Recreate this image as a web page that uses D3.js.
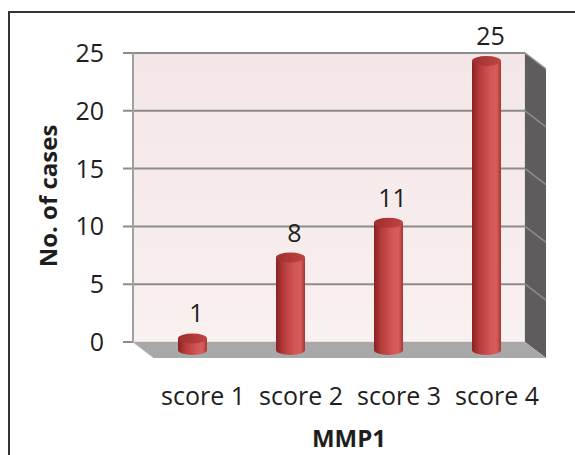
<!DOCTYPE html>
<html>
<head>
<meta charset="utf-8">
<script src="https://cdn.jsdelivr.net/npm/d3@7"></script>
<style>
  body { margin: 0; background: #fff; }
  text { font-family: "Open Sans", sans-serif; fill: #1e1e1e; }
</style>
</head>
<body>
<div id="chart"></div>
<script>
var categories = ["score 1", "score 2", "score 3", "score 4"];
var cases = [1, 8, 11, 25];
var yTicks = [0, 5, 10, 15, 20, 25];
var xTitle = "MMP1",
    yTitle = "No. of cases";

var width = 575,
    height = 455,
    wall = { left: 133, right: 525, top: 53, bottom: 342 },
    depth = { dx: 21, dy: 16 },
    barWidth = 29,
    ry = 5;

var svg = d3.select("#chart").append("svg")
    .attr("width", width)
    .attr("height", height);

var defs = svg.append("defs");

var wallGrad = defs.append("linearGradient")
    .attr("id", "wallGrad")
    .attr("x1", 0).attr("y1", 0).attr("x2", 0).attr("y2", 1);
wallGrad.append("stop").attr("offset", "0%").attr("stop-color", "#f4e6e7");
wallGrad.append("stop").attr("offset", "100%").attr("stop-color", "#f9f0f0");

var barGrad = defs.append("linearGradient")
    .attr("id", "barGrad")
    .attr("x1", 0).attr("y1", 0).attr("x2", 1).attr("y2", 0);
barGrad.append("stop").attr("offset", "0%").attr("stop-color", "#8a2222");
barGrad.append("stop").attr("offset", "25%").attr("stop-color", "#b53a3a");
barGrad.append("stop").attr("offset", "65%").attr("stop-color", "#d45656");
barGrad.append("stop").attr("offset", "85%").attr("stop-color", "#d65c5c");
barGrad.append("stop").attr("offset", "100%").attr("stop-color", "#a83434");

var topGrad = defs.append("linearGradient")
    .attr("id", "topGrad")
    .attr("x1", 0).attr("y1", 0).attr("x2", 1).attr("y2", 0);
topGrad.append("stop").attr("offset", "0%").attr("stop-color", "#9e2e2e");
topGrad.append("stop").attr("offset", "100%").attr("stop-color", "#c04444");

var x = d3.scaleBand()
    .domain(categories)
    .range([wall.left, wall.right]);

var y = d3.scaleLinear()
    .domain([0, 25])
    .range([wall.bottom, wall.top]);

// outer frame (only left and top visible)
svg.append("path")
    .attr("d", "M9," + height + "V12H" + width)
    .attr("fill", "none")
    .attr("stroke", "#333")
    .attr("stroke-width", 2);

// back wall
svg.append("rect")
    .attr("x", wall.left)
    .attr("y", wall.top)
    .attr("width", wall.right - wall.left)
    .attr("height", wall.bottom - wall.top)
    .attr("fill", "url(#wallGrad)")
    .attr("stroke", "#d6d0d0")
    .attr("stroke-width", 1);

// side wall
svg.append("polygon")
    .attr("points", [
        [wall.right, wall.top],
        [wall.right + depth.dx, wall.top + depth.dy],
        [wall.right + depth.dx, wall.bottom + depth.dy],
        [wall.right, wall.bottom]
    ].join(" "))
    .attr("fill", "#5e5c5c");

// floor
svg.append("polygon")
    .attr("points", [
        [wall.left, wall.bottom],
        [wall.right, wall.bottom],
        [wall.right + depth.dx, wall.bottom + depth.dy],
        [wall.left + depth.dx, wall.bottom + depth.dy]
    ].join(" "))
    .attr("fill", "#a8a8a8");

// gridlines on back and side walls
var grid = svg.append("g");
grid.selectAll(".grid")
    .data(yTicks.filter(function(t) { return t > 0; }))
    .enter().append("line")
    .attr("x1", wall.left - 10)
    .attr("x2", wall.right)
    .attr("y1", function(d) { return y(d); })
    .attr("y2", function(d) { return y(d); })
    .attr("stroke", "#8c8c8c")
    .attr("stroke-width", 2);

grid.selectAll(".side")
    .data(yTicks.filter(function(t) { return t > 0; }))
    .enter().append("line")
    .attr("x1", wall.right)
    .attr("x2", wall.right + depth.dx)
    .attr("y1", function(d) { return y(d); })
    .attr("y2", function(d) { return y(d) + depth.dy; })
    .attr("stroke", "#8e8c8c")
    .attr("stroke-width", 1.5);

// zero tick and vertical axis line
svg.append("line")
    .attr("x1", wall.left - 10).attr("x2", wall.left)
    .attr("y1", y(0)).attr("y2", y(0))
    .attr("stroke", "#8c8c8c").attr("stroke-width", 2);

svg.append("line")
    .attr("x1", wall.left).attr("x2", wall.left)
    .attr("y1", wall.top).attr("y2", wall.bottom)
    .attr("stroke", "#a0a0a0").attr("stroke-width", 2);

svg.append("line")
    .attr("x1", wall.left).attr("x2", wall.left + depth.dx)
    .attr("y1", wall.bottom).attr("y2", wall.bottom + depth.dy)
    .attr("stroke", "#b8b8b8").attr("stroke-width", 1);

// y tick labels
svg.selectAll(".ytick")
    .data(yTicks)
    .enter().append("text")
    .attr("x", 104)
    .attr("y", function(d) { return y(d); })
    .attr("dy", "0.36em")
    .attr("text-anchor", "end")
    .style("font-size", "25px")
    .text(function(d) { return d; });

// cylinders
var bars = svg.selectAll(".bar")
    .data(categories.map(function(c, i) { return { cat: c, value: cases[i] }; }))
    .enter().append("g")
    .attr("class", "bar")
    .attr("transform", function(d) {
        return "translate(" + (x(d.cat) + x.bandwidth() / 2 + depth.dx / 2) + "," + (depth.dy / 2) + ")";
    });

bars.append("path")
    .attr("d", function(d) {
        var r = barWidth / 2, top = y(d.value), base = y(0);
        return "M" + (-r) + "," + top +
            "V" + base +
            "A" + r + "," + ry + " 0 0 0 " + r + "," + base +
            "V" + top + "Z";
    })
    .attr("fill", "url(#barGrad)");

bars.append("ellipse")
    .attr("cx", 0)
    .attr("cy", function(d) { return y(d.value); })
    .attr("rx", barWidth / 2)
    .attr("ry", ry)
    .attr("fill", "url(#topGrad)");

// value labels
bars.append("text")
    .attr("x", 4)
    .attr("y", function(d) { return y(d.value) - 16; })
    .attr("text-anchor", "middle")
    .style("font-size", "25px")
    .text(function(d) { return d.value; });

// category labels
svg.selectAll(".xlabel")
    .data(categories)
    .enter().append("text")
    .attr("x", function(d) { return x(d) + x.bandwidth() / 2 + depth.dx; })
    .attr("y", 405)
    .attr("text-anchor", "middle")
    .style("font-size", "25px")
    .text(function(d) { return d; });

// axis titles
svg.append("text")
    .attr("x", 349)
    .attr("y", 447)
    .attr("text-anchor", "middle")
    .style("font-size", "24px")
    .style("font-weight", "bold")
    .text(xTitle);

svg.append("text")
    .attr("transform", "translate(57,196) rotate(-90)")
    .attr("text-anchor", "middle")
    .style("font-size", "24px")
    .style("font-weight", "bold")
    .text(yTitle);
</script>
</body>
</html>
